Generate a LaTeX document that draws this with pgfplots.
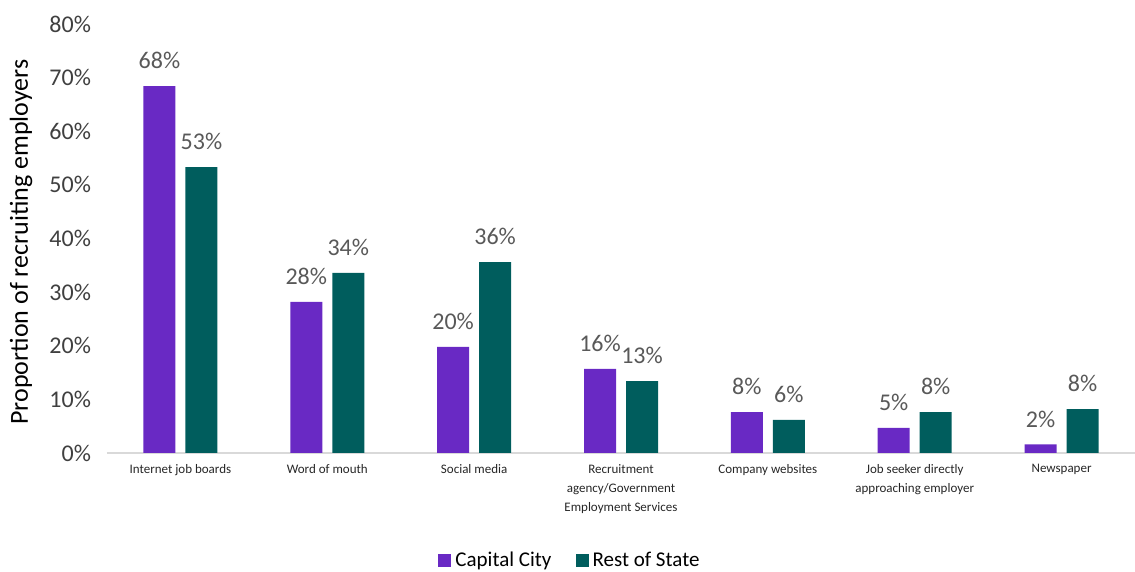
\documentclass[border=0pt]{standalone}
\usepackage{pgfplots}
\pgfplotsset{compat=1.18}
\usepackage{fontspec}
\setmainfont{Carlito}
\definecolor{cpurple}{HTML}{6929C4}
\definecolor{cteal}{HTML}{005D5D}
\definecolor{tickgrey}{HTML}{404040}
\definecolor{labgrey}{HTML}{595959}
\definecolor{basegrey}{HTML}{D9D9D9}
\begin{document}
\begin{tikzpicture}
\path[use as bounding box] (-53.5pt,-59.5pt) rectangle (514pt,226.5pt);
\begin{axis}[
  at={(0,0)}, anchor=south west,
  scale only axis,
  width=514pt, height=214.5pt,
  ybar=5pt, bar width=16pt,
  xmin=-0.5, xmax=6.5,
  ymin=0, ymax=80,
  xtick={0,1,2,3,4,5,6},
  xticklabels={Internet job boards, Word of mouth, Social media, Recruitment\\agency/Government\\Employment Services, Company websites, Job seeker directly\\approaching employer, Newspaper},
  x tick label style={align=center, font={\fontsize{6.5}{9.7}\selectfont}, text=black!85, yshift=-2pt},
  ytick={0,10,...,80},
  yticklabel={\pgfmathprintnumber{\tick}\%},
  y tick label style={font={\fontsize{12}{14}\selectfont}, text=tickgrey, xshift=-4.5pt},
  /pgf/number format/assume math mode=true,
  major tick length=0pt,
  axis x line*=bottom,
  axis y line*=left,
  x axis line style={basegrey, line width=1pt, -},
  y axis line style={draw=none},
  separate axis lines,
  ylabel={Proportion of recruiting employers},
  every axis y label/.style={at={(rel axis cs:0,0.5)}, xshift=-43pt, yshift=-1.75pt, rotate=90, anchor=center, font={\fontsize{13}{15}\selectfont}, text=black},
  nodes near coords={\pgfmathprintnumber[fixed,precision=0]{\pgfplotspointmeta}\%},
  every node near coord/.append style={font={\fontsize{12}{14}\selectfont}, text=labgrey, /pgf/number format/assume math mode=true, yshift=5pt},
  legend style={at={(0.5,0)}, anchor=center, xshift=-25pt, yshift=-54pt, draw=none, legend columns=2, font={\fontsize{10.5}{12}\selectfont}, /tikz/every even column/.append style={column sep=10pt}},
  legend image code/.code={\fill[#1] (0pt,-3pt) rectangle (6.5pt,3.5pt);},
  clip=false,
]
\addplot[fill=cpurple, draw=none] coordinates {(0,68.4) (1,28.2) (2,19.8) (3,15.7) (4,7.6) (5,4.7) (6,1.6)};
\addplot[fill=cteal, draw=none] coordinates {(0,53.3) (1,33.6) (2,35.6) (3,13.4) (4,6.2) (5,7.6) (6,8.2)};
\legend{Capital City, Rest of State}
\end{axis}
\end{tikzpicture}
\end{document}
